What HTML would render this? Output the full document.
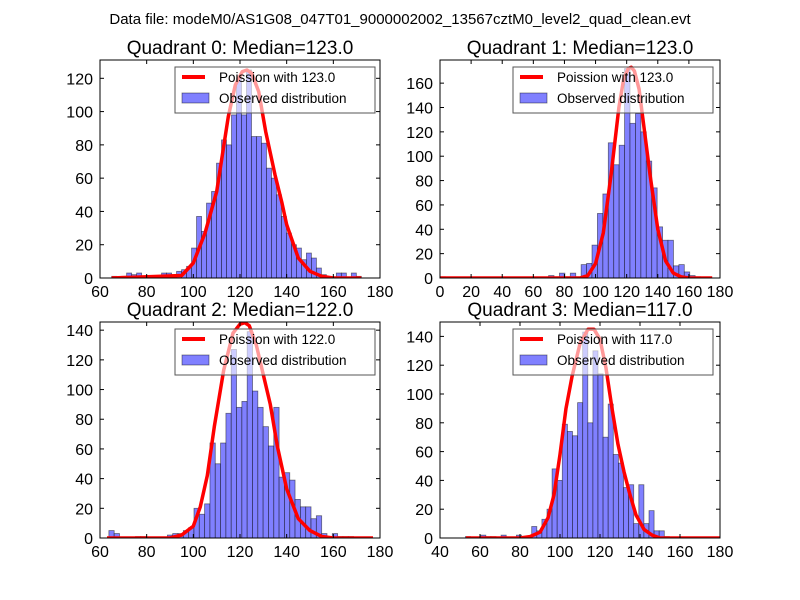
<!DOCTYPE html>
<html><head><meta charset="utf-8"><style>
html,body{margin:0;padding:0;background:#fff;}
svg{display:block;font-family:"Liberation Sans","DejaVu Sans",sans-serif;}
</style></head><body>
<svg id="fig" width="800" height="600" viewBox="0 0 800 600">
<rect width="800" height="600" fill="#fff"/>
<text x="400" y="24" font-size="15" text-anchor="middle">Data file: modeM0/AS1G08_047T01_9000002002_13567cztM0_level2_quad_clean.evt</text>
</svg>
<script>
// ---- data ----
const q0Counts=[1,0,1,3,2,3,0,0,0,0,3,3,2,4,5,7,18,37,28,45,52,69,83,80,98,120,98,125,85,85,81,66,60,50,37,27,20,18,11,15,12,6,2,0,0,3,3,0,3,1];
const q0CurveX=[65,95,100,105,110,115,118,121,123,125,128,131,135,138,140,145,150,155,160,172];
const q0CurveY=[0,1.5,9,27,52,97,116,124,125,123,112,88,62,45,32,12,4,1,0,0];
const q1Counts=[1,0,0,0,0,0,0,0,0,0,0,0,0,0,0,0,0,0,0,0,2,1,4,1,4,1,11,12,27,53,69,111,93,109,172,127,135,120,96,74,42,31,31,10,11,5,2,1,0,0];
const q1CurveX=[0,90,95,100,105,110,115,118,121,123,125,128,131,135,140,145,150,155,160,175];
const q1CurveY=[0,0,2,12,37,85,140,163,172,173,170,155,125,85,40,14,4,1,0,0];
const q2Counts=[5,3,0,0,0,1,1,0,0,0,0,2,3,3,5,7,20,16,23,64,50,64,84,127,88,92,139,99,88,75,62,88,41,44,39,26,21,21,13,15,3,0,3,1,1,1,0,0,0,0];
const q2CurveX=[63,90,95,100,103,106,109,113,117,120,122,124,127,130,133,136,140,145,150,155,160,177];
const q2CurveY=[0,0,2,8,21,42,75,113,138,144,145,143,130,110,90,62,33,13,5,1,0,0];
const q3Counts=[1,0,0,2,1,1,0,2,0,0,2,0,1,8,5,13,20,48,40,79,74,71,94,143,80,130,114,70,93,58,52,35,37,10,37,10,19,5,5,1,0,0];
const q3CurveX=[53,80,85,90,94,97,100,103,106,110,114,117,120,123,126,129,132,135,138,142,146,150,180];
const q3CurveY=[0,0,1,4,14,30,58,90,112,135,145,145,138,118,90,65,46,30,16,6,2,0,0];
const titles=["Quadrant 0: Median=123.0","Quadrant 1: Median=123.0","Quadrant 2: Median=122.0","Quadrant 3: Median=117.0"];
const legendLabels=["Poission with 123.0","Poission with 123.0","Poission with 122.0","Poission with 117.0"];

const NS="http://www.w3.org/2000/svg";
const svg=document.getElementById('fig');
function mk(tag,attrs,parent){const e=document.createElementNS(NS,tag);for(const k in attrs)e.setAttribute(k,attrs[k]);(parent||svg).appendChild(e);return e;}

const panels=[
 {L:100,R:380,T:60,B:278,x0:60,x1:180,ymax:131,xt:[60,80,100,120,140,160,180],yt:[0,20,40,60,80,100,120],counts:q0Counts,bs:65,bw:2.14,cx:q0CurveX,cy:q0CurveY,lg:175},
 {L:440,R:720,T:60,B:278,x0:0,x1:180,ymax:179,xt:[0,20,40,60,80,100,120,140,160,180],yt:[0,20,40,60,80,100,120,140,160],counts:q1Counts,bs:0,bw:3.49,cx:q1CurveX,cy:q1CurveY,lg:513},
 {L:100,R:380,T:322,B:538,x0:60,x1:180,ymax:145.5,xt:[60,80,100,120,140,160,180],yt:[0,20,40,60,80,100,120,140],counts:q2Counts,bs:63.8,bw:2.28,cx:q2CurveX,cy:q2CurveY,lg:175},
 {L:440,R:720,T:322,B:538,x0:40,x1:180,ymax:150,xt:[40,60,80,100,120,140,160,180],yt:[0,20,40,60,80,100,120,140],counts:q3Counts,bs:52.7,bw:2.55,cx:q3CurveX,cy:q3CurveY,lg:513}
];

panels.forEach((p,i)=>{
 const g=mk('g',{});
 
 
 const sx=v=>p.L+(v-p.x0)/(p.x1-p.x0)*(p.R-p.L);
 const sy=v=>p.B-v/p.ymax*(p.B-p.T);
 const clipId='clip'+i;
 const cp=mk('clipPath',{id:clipId},g);mk('rect',{x:p.L,y:p.T,width:p.R-p.L,height:p.B-p.T},cp);
 const plot=mk('g',{'clip-path':'url(#'+clipId+')'},g);
 p.counts.forEach((c,k)=>{
  if(c<=0)return;
  const a=p.bs+k*p.bw;
  const r=mk('rect',{x:sx(a),y:sy(c),width:sx(a+p.bw)-sx(a),height:sy(0)-sy(c),fill:'#8080ff','stroke':'#000','stroke-opacity':'0.5','stroke-width':'0.8'},plot);
  
  
 });
 const pts=p.cx.map((x,k)=>sx(x).toFixed(1)+','+sy(p.cy[k]).toFixed(1)).join(' ');
 const ln=mk('polyline',{points:pts,fill:'none',stroke:'#ff0000','stroke-width':'3.5','stroke-linejoin':'round'},plot);
 
 
 mk('rect',{x:p.L,y:p.T,width:p.R-p.L,height:p.B-p.T,fill:'none',stroke:'#000','stroke-width':'1'},g);
 p.xt.forEach(v=>{
  const x=sx(v);
  mk('line',{x1:x,y1:p.B,x2:x,y2:p.B-4,stroke:'#000'},g);
  mk('line',{x1:x,y1:p.T,x2:x,y2:p.T+4,stroke:'#000'},g);
  const t=mk('text',{x:x,y:p.B+19,'font-size':'16','text-anchor':'middle'},g);t.textContent=v;
  
  
 });
 p.yt.forEach(v=>{
  const y=sy(v);
  mk('line',{x1:p.L,y1:y,x2:p.L+4,y2:y,stroke:'#000'},g);
  mk('line',{x1:p.R,y1:y,x2:p.R-4,y2:y,stroke:'#000'},g);
  const t=mk('text',{x:p.L-7,y:y+6,'font-size':'16','text-anchor':'end'},g);t.textContent=v;
  
  
 });
 const tt=mk('text',{x:(p.L+p.R)/2,y:p.T-6,'font-size':'19','text-anchor':'middle'},g);tt.textContent=titles[i];
 
 
 const lg=mk('g',{},g);
 
 
 const ly=p.T+7;
 mk('rect',{x:p.lg,y:ly,width:200,height:46,fill:'#fff','fill-opacity':'0.6',stroke:'#555','stroke-width':'1'},lg);
 mk('line',{x1:p.lg+7,y1:ly+10,x2:p.lg+30,y2:ly+10,stroke:'#ff0000','stroke-width':'4'},lg);
 mk('rect',{x:p.lg+7,y:ly+26,width:27,height:10,fill:'#8080ff',stroke:'#000','stroke-opacity':'0.5','stroke-width':'0.8'},lg);
 const l1=mk('text',{x:p.lg+44,y:ly+15,'font-size':'13.5'},lg);l1.textContent=legendLabels[i];
 
 
 const l2=mk('text',{x:p.lg+44,y:ly+36,'font-size':'13.5'},lg);l2.textContent='Observed distribution';
 
 
});
</script>
</body></html>
